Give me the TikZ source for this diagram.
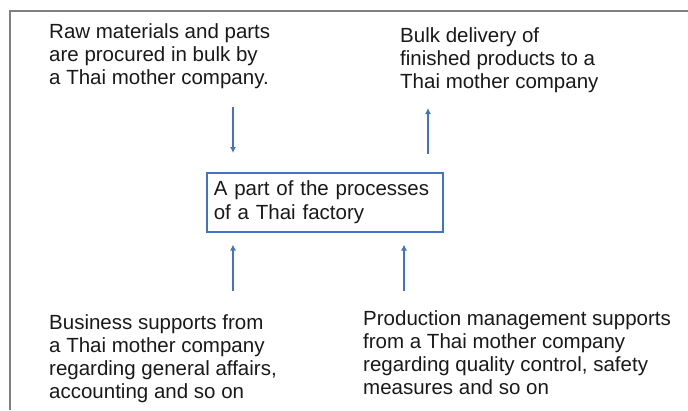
\documentclass[tikz,border=0pt]{standalone}
\usepackage{fontspec}
\setmainfont{Liberation Sans}
\usepackage{xcolor}
\usepackage{tikz}
\usetikzlibrary{calc, arrows.meta, positioning}
\definecolor{linkblue}{HTML}{4472C4}
\definecolor{framegray}{HTML}{7F7F7F}
\tikzset{
    textnode/.style = {draw=none, fill=none, rectangle, inner sep=0em, anchor=north west,
      align=left, text=black!90, font=\fontsize{20.5}{23.3}\selectfont},
    boxnode/.style = {draw=linkblue, rectangle, line width=1.5pt, anchor=north west,
      text width=222pt, inner xsep=7pt, inner ysep=0pt, minimum height=59pt,
      align=left, text=black!90, font=\fontsize{20.5}{23.3}\selectfont},
    connect/.style = {linkblue, line width=1.5pt, -{Latex[length=6pt,width=6pt]}},
    framerule/.style = {framegray, line width=1.5pt}
}
\begin{document}
\begin{tikzpicture}[x=1pt, y=-1pt]
\useasboundingbox (0,0) rectangle (688,410);
\draw[framerule] (688,11) -- (10,11) -- (10,410);

\node[boxnode, name=proc] at (206,172) {A part of the processes\\of a Thai factory};

\node[textnode, name=raw] at (49,23) {Raw materials and parts\\are procured in bulk by\\a Thai mother company.};
\node[textnode, name=delivery] at (400,27) {Bulk delivery of\\finished products to a\\Thai mother company};
\node[textnode, name=business] at (49,314) {Business supports from\\a Thai mother company\\regarding general affairs,\\accounting and so on};
\node[textnode, name=production] at (363,310) {Production management supports\\from a Thai mother company\\regarding quality control, safety\\measures and so on};

\coordinate (rawout) at (233,107);
\coordinate (deliveryin) at (428,108);
\coordinate (businessout) at (233,291);
\coordinate (productionout) at (404,291);

\draw[connect, shorten >=19pt] (rawout) -- (rawout |- proc.north);
\draw[connect, shorten <=18pt] (deliveryin |- proc.north) -- (deliveryin);
\draw[connect, shorten >=12pt] (businessout) -- (businessout |- proc.south);
\draw[connect, shorten >=12pt] (productionout) -- (productionout |- proc.south);
\end{tikzpicture}
\end{document}
